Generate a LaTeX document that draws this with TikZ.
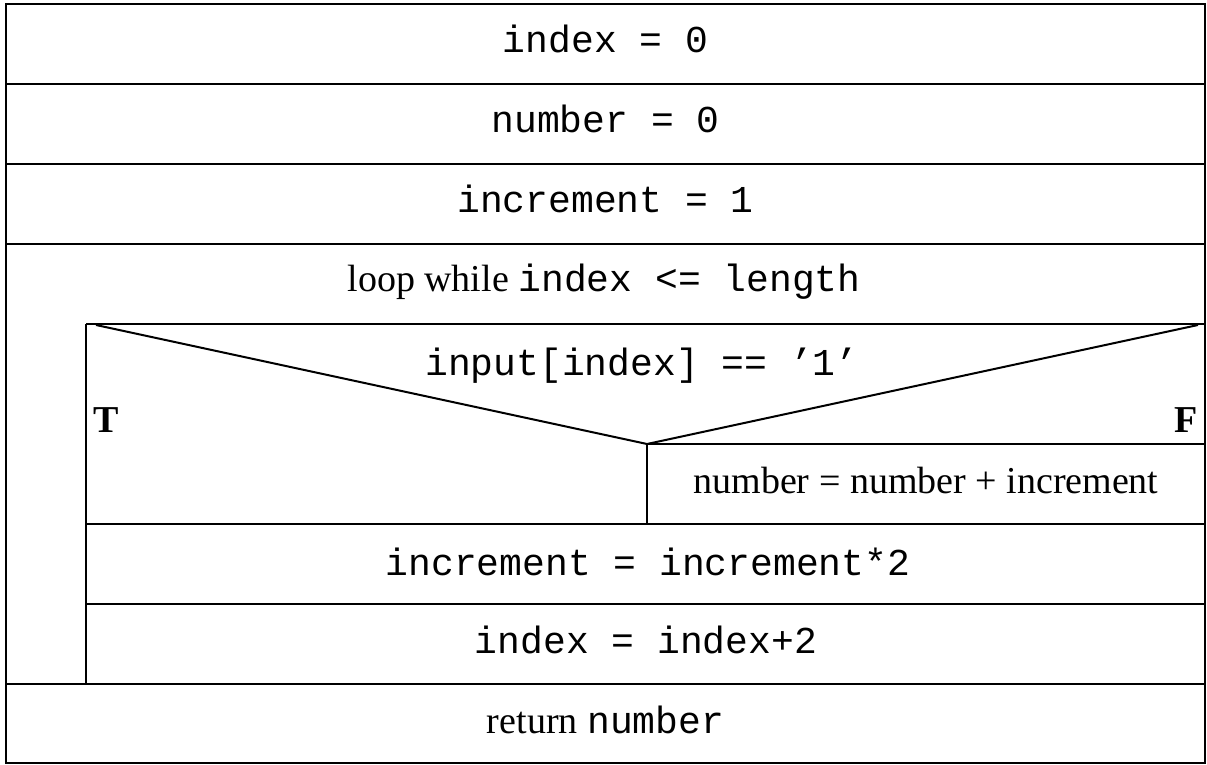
\documentclass[tikz,border=0pt]{standalone}
\usepackage{fontspec}
\setmainfont{Liberation Serif}
\setmonofont{Liberation Mono}
\begin{document}
\begin{tikzpicture}[x=0.5pt,y=-0.5pt,line width=1pt,
  txt/.style={font=\fontsize{19}{23}\selectfont,anchor=base,inner sep=0pt},
  lbl/.style={font=\fontsize{19}{23}\selectfont\bfseries,anchor=base west,inner sep=0pt}]
\useasboundingbox (0,0) rectangle (1207,765);
% outer frame and rows
\draw (6,4) rectangle (1205,763);
\draw (6,84) -- (1205,84);
\draw (6,164) -- (1205,164);
\draw (6,244) -- (1205,244);
\draw (6,684) -- (1205,684);
% loop body
\draw (86,324) -- (1205,324);
\draw (86,324) -- (86,684);
\draw (96,325) -- (647,444) -- (1198,325);
\draw (647,444) -- (1205,444);
\draw (647,444) -- (647,524);
\draw (86,524) -- (1205,524);
\draw (86,604) -- (1205,604);
% texts
\node[txt] (t1) at (605.5,53) {\ttfamily index = 0};
\node[txt] (t2) at (605.5,133) {\ttfamily number = 0};
\node[txt] (t3) at (605.5,213) {\ttfamily increment = 1};
\node[txt] (t4) at (604,292) {loop while \ttfamily index <= length};
\node[txt] (t5) at (642,375) {\ttfamily input[index] == ’1’};
\node[lbl] (tT) at (92,432) {T};
\node[lbl,anchor=base east] (tF) at (1199,432) {F};
\node[txt] (t6) at (926,493) {number = number + increment};
\node[txt] (t7) at (648,575) {\ttfamily increment = increment*2};
\node[txt] (t8) at (646,653) {\ttfamily index = index+2};
\node[txt] (t9) at (605.5,733) {return \ttfamily number};
\end{tikzpicture}
\end{document}
